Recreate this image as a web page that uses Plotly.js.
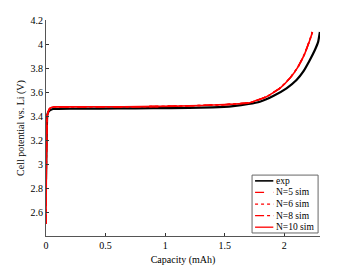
<!DOCTYPE html>
<html><head><meta charset="utf-8">
<script src="https://cdn.plot.ly/plotly-3.0.1.min.js"></script>
<style>html,body{margin:0;padding:0;background:#fff}#c{width:354px;height:266px}</style>
</head><body><div id="c"></div>
<script>
const expX = [0, 0.005, 0.011, 0.02, 0.03, 0.042, 0.06, 0.1, 0.3, 0.6, 0.9, 1.2, 1.4, 1.571, 1.7, 1.795, 1.907, 2.019, 2.103, 2.159, 2.215, 2.257, 2.285, 2.299];
const expY = [2.87, 3.2, 3.41, 3.435, 3.445, 3.452, 3.458, 3.46, 3.461, 3.463, 3.465, 3.468, 3.472, 3.483, 3.50, 3.519, 3.567, 3.631, 3.70, 3.769, 3.867, 3.95, 4.02, 4.10];

const n5X = [0, 0.004, 0.01, 0.02, 0.03, 0.045, 0.07, 0.2, 0.5, 0.8, 1.1, 1.3, 1.5, 1.711, 1.851, 1.963, 2.047, 2.117, 2.173, 2.213, 2.234];
const n5Y = [2.5, 3.1, 3.40, 3.44, 3.46, 3.471, 3.475, 3.476, 3.477, 3.478, 3.482, 3.488, 3.495, 3.512, 3.562, 3.633, 3.716, 3.814, 3.925, 4.035, 4.10];
const n6X = [0, 0.004, 0.01, 0.02, 0.03, 0.045, 0.07, 0.2, 0.5, 0.8, 1.1, 1.3, 1.5, 1.711, 1.851, 1.963, 2.047, 2.117, 2.173, 2.214, 2.235];
const n6Y = [2.5, 3.1, 3.40, 3.44, 3.46, 3.472, 3.476, 3.476, 3.477, 3.478, 3.482, 3.488, 3.495, 3.511, 3.561, 3.632, 3.715, 3.812, 3.923, 4.034, 4.10];
const n8X = [0, 0.004, 0.01, 0.02, 0.03, 0.045, 0.07, 0.2, 0.5, 0.8, 1.1, 1.3, 1.5, 1.711, 1.851, 1.963, 2.047, 2.117, 2.173, 2.215, 2.236];
const n8Y = [2.5, 3.1, 3.40, 3.44, 3.46, 3.472, 3.476, 3.476, 3.477, 3.478, 3.482, 3.488, 3.495, 3.511, 3.561, 3.631, 3.714, 3.811, 3.922, 4.033, 4.10];
const n10X = [0, 0.004, 0.01, 0.02, 0.03, 0.045, 0.07, 0.2, 0.5, 0.8, 1.1, 1.3, 1.5, 1.711, 1.851, 1.963, 2.047, 2.117, 2.173, 2.215, 2.237];
const n10Y = [2.5, 3.1, 3.40, 3.44, 3.46, 3.472, 3.476, 3.476, 3.477, 3.478, 3.482, 3.488, 3.495, 3.511, 3.561, 3.631, 3.714, 3.811, 3.922, 4.033, 4.10];

const seriesNames = ['exp', 'N=5 sim', 'N=6 sim', 'N=8 sim', 'N=10 sim'];
const xTicks = [0, 0.5, 1, 1.5, 2];
const xTickText = ['0', '0.5', '1', '1.5', '2'];
const yTicks = [2.6, 2.8, 3, 3.2, 3.4, 3.6, 3.8, 4, 4.2];
const yTickText = ['2.6', '2.8', '3', '3.2', '3.4', '3.6', '3.8', '4', '4.2'];

const red = '#ff0000';
const styles = [
  {color: '#000', width: 2.2, dash: 'solid'},
  {color: red, width: 1.4, dash: 'dash'},
  {color: red, width: 1.4, dash: 'dot'},
  {color: red, width: 1.4, dash: 'dashdot'},
  {color: red, width: 1.6, dash: 'solid'}
];
const xs = [expX, n5X, n6X, n8X, n10X];
const ys = [expY, n5Y, n6Y, n8Y, n10Y];

const traces = seriesNames.map((nm, i) => ({
  x: xs[i], y: ys[i], name: nm, mode: 'lines', showlegend: false,
  line: Object.assign({}, styles[i], {shape: 'spline', smoothing: 0.4})
}));

// custom compact legend (MATLAB style)
const legX0 = 0.752, legX1 = 0.993, legY0 = 0.014, legY1 = 0.282;
const shapes = [{type: 'rect', xref: 'paper', yref: 'paper', x0: legX0, x1: legX1, y0: legY0, y1: legY1,
  line: {color: '#666', width: 1}, fillcolor: '#fff', layer: 'above'}];
const annotations = [];
const step = (legY1 - legY0) / seriesNames.length;
seriesNames.forEach((nm, i) => {
  const yc = legY1 - step * (i + 0.5);
  shapes.push({type: 'line', xref: 'paper', yref: 'paper', x0: 0.763, x1: 0.8296, y0: yc, y1: yc,
    line: {color: styles[i].color, width: i === 0 ? 1.6 : 1.3, dash: styles[i].dash}, layer: 'above'});
  annotations.push({xref: 'paper', yref: 'paper', x: 0.832, y: yc, xanchor: 'left', yanchor: 'middle',
    text: nm, showarrow: false, font: {size: 9.5, color: '#000'}});
});

const axisCommon = {
  showgrid: false, zeroline: false, showline: true, linecolor: '#555', linewidth: 1,
  ticks: 'inside', ticklen: 3, tickcolor: '#333', tickfont: {size: 10, color: '#000'}, mirror: false
};

const layout = {
  width: 354, height: 266,
  margin: {l: 46, r: 34, t: 20, b: 30},
  paper_bgcolor: '#fff', plot_bgcolor: '#fff',
  font: {family: 'Liberation Serif, Times New Roman, serif', size: 10, color: '#000'},
  showlegend: false,
  xaxis: Object.assign({}, axisCommon, {range: [0, 2.3], tickvals: xTicks, ticktext: xTickText,
    title: {text: 'Capacity (mAh)', font: {size: 10}, standoff: 5}}),
  yaxis: Object.assign({}, axisCommon, {range: [2.4, 4.2], tickvals: yTicks, ticktext: yTickText,
    title: {text: 'Cell potential vs. Li (V)', font: {size: 10}, standoff: 4}}),
  shapes: shapes,
  annotations: annotations
};

Plotly.newPlot('c', traces, layout, {staticPlot: true, displayModeBar: false});
</script></body></html>
